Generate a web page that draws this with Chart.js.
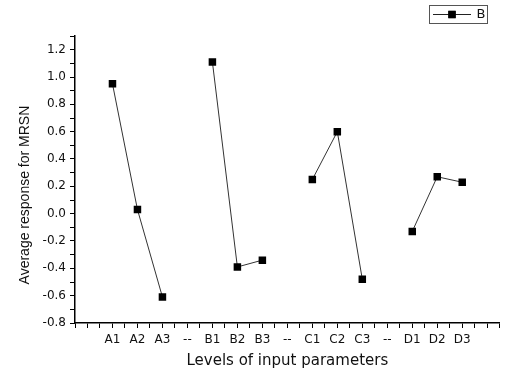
<!DOCTYPE html>
<html>
<head>
<meta charset="utf-8">
<script src="https://cdn.jsdelivr.net/npm/chart.js@4.4.1/dist/chart.umd.min.js"></script>
<style>
  html, body { margin: 0; padding: 0; background: #ffffff; }
  #wrap { width: 505px; height: 369px; }
</style>
</head>
<body>
<div id="wrap"><canvas id="c" width="505" height="369"></canvas></div>
<script>
// ---- data ----
const categories = ['A1', 'A2', 'A3', '--', 'B1', 'B2', 'B3', '--', 'C1', 'C2', 'C3', '--', 'D1', 'D2', 'D3'];
const seriesName = 'B';
const seriesB = [0.95, 0.03, -0.61, null, 1.11, -0.39, -0.34, null, 0.25, 0.60, -0.48, null, -0.13, 0.27, 0.23];
const yMin = -0.8, yMax = 1.3, yStep = 0.1;
const xTitle = 'Levels of input parameters';
const yTitle = 'Average response for MRSN';

const points = categories.map((c, i) => ({ x: i + 1, y: seriesB[i] }));

const boxedLegend = {
  id: 'boxedLegend',
  afterDraw(chart) {
    const ctx = chart.ctx;
    const ds = chart.data.datasets[0];
    ctx.save();
    ctx.strokeStyle = '#555';
    ctx.lineWidth = 1;
    ctx.strokeRect(429.5, 5.5, 58, 18);
    ctx.strokeStyle = '#222';
    ctx.beginPath();
    ctx.moveTo(433, 14.5);
    ctx.lineTo(471, 14.5);
    ctx.stroke();
    Chart.helpers.drawPoint(ctx, { pointStyle: 'rect', radius: 5.2, borderWidth: 0 }, 452, 14.5);
    ctx.fillStyle = '#000';
    ctx.fill();
    ctx.font = '13px "DejaVu Sans"';
    ctx.textAlign = 'center';
    ctx.textBaseline = 'middle';
    ctx.fillStyle = '#111';
    ctx.fillText(ds.label, 481, 15);
    ctx.restore();
  }
};

new Chart(document.getElementById('c'), {
  type: 'line',
  data: {
    datasets: [{
      label: seriesName,
      data: points,
      borderColor: '#333',
      borderWidth: 1,
      pointStyle: 'rect',
      pointRadius: 5.3,
      pointBackgroundColor: '#000',
      pointBorderColor: '#000',
      pointBorderWidth: 0,
      spanGaps: false,
      tension: 0
    }]
  },
  plugins: [boxedLegend],
  options: {
    responsive: false,
    devicePixelRatio: 1,
    animation: false,
    layout: { padding: { top: 36, right: 2, left: 0, bottom: 0 } },
    plugins: { legend: { display: false }, tooltip: { enabled: false } },
    scales: {
      x: {
        type: 'linear',
        min: -0.5,
        max: 16.5,
        afterFit(scale) { scale.height = 46; },
        afterBuildTicks(scale) {
          const t = [];
          for (let i = -1; i <= 33; i++) t.push({ value: i / 2 });
          scale.ticks = t;
        },
        ticks: {
          autoSkip: false,
          maxRotation: 0,
          minRotation: 0,
          padding: 5,
          color: '#111',
          font: { family: '"DejaVu Sans"', size: 12 },
          callback(v) {
            if (Number.isInteger(v) && v >= 1 && v <= categories.length) return categories[v - 1];
            return '';
          }
        },
        grid: { drawOnChartArea: false, drawTicks: true, tickLength: 5, color: '#000', tickWidth: 1 },
        border: { display: true, color: '#000', width: 1.5 },
        title: {
          display: true,
          text: xTitle,
          color: '#111',
          font: { family: '"DejaVu Sans"', size: 15, lineHeight: 1.1 },
          padding: { top: 0, bottom: 0 }
        }
      },
      y: {
        type: 'linear',
        min: yMin,
        max: yMax,
        afterFit(scale) { scale.width = 75; },
        ticks: {
          stepSize: yStep,
          autoSkip: false,
          padding: 4,
          color: '#111',
          font: { family: '"DejaVu Sans"', size: 12 },
          callback(v) {
            const k = Math.round(v * 10);
            return (k % 2 === 0) ? (k / 10).toFixed(1) : '';
          }
        },
        grid: { drawOnChartArea: false, drawTicks: true, tickLength: 5, color: '#000', tickWidth: 1 },
        border: { display: true, color: '#000', width: 1.5 },
        title: {
          display: true,
          text: yTitle + '        ',
          color: '#111',
          font: { family: '"Liberation Sans"', size: 14 },
          padding: { top: 17, bottom: 0 }
        }
      }
    }
  }
});
</script>
</body>
</html>
